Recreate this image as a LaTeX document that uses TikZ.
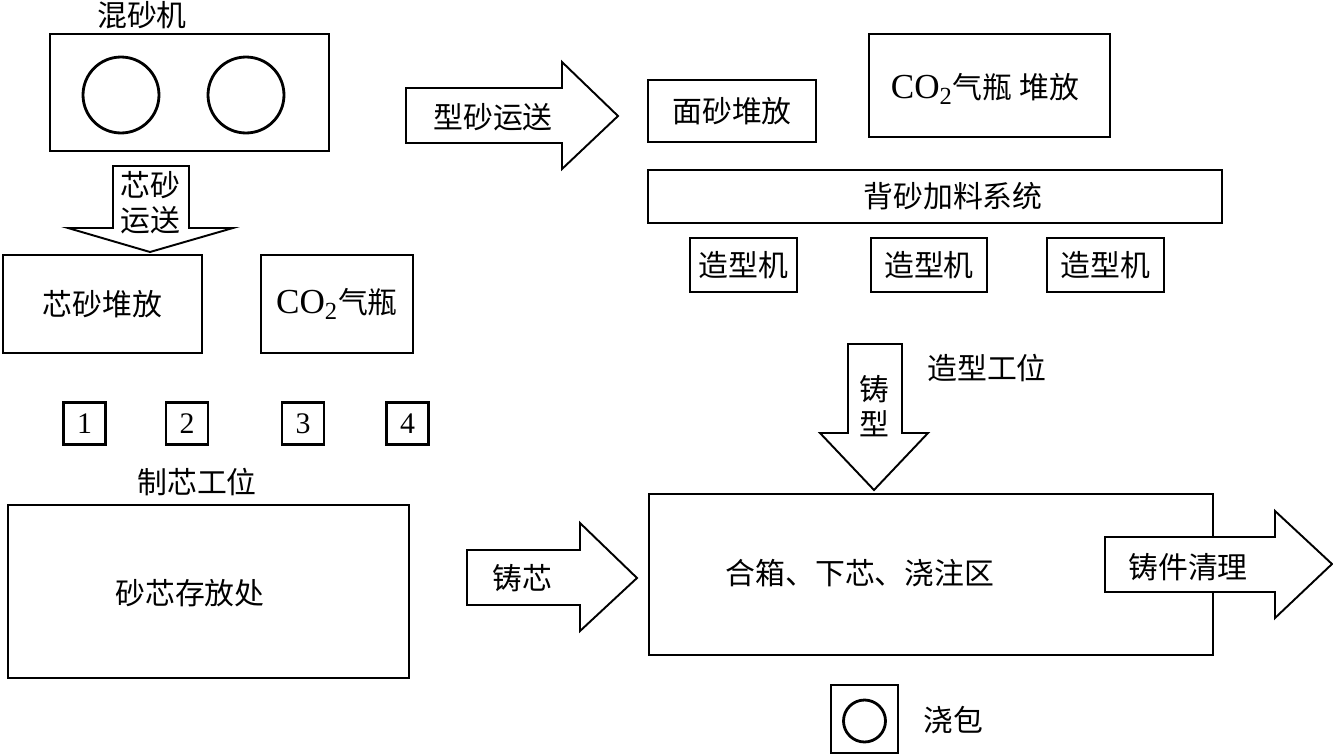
\documentclass[tikz,border=0pt]{standalone}
\usepackage{fontspec}
\setmainfont{Liberation Serif}
\newfontfamily\cjk{Noto Sans CJK SC}
\begin{document}
\begin{tikzpicture}[x=0.02cm, y=-0.02cm,
    box/.style={draw, line width=1.6pt, inner sep=0pt, font=\cjk\fontsize{17}{20}\selectfont},
    numbox/.style={draw, line width=1.4pt, minimum size=0.84cm, inner sep=0pt, font=\fontsize{17}{20}\selectfont},
    ring/.style={draw, circle, line width=1.6pt, inner sep=0pt},
    fat/.style={draw, line width=1.1pt, fill=white, line join=miter},
    lbl/.style={font=\cjk\fontsize{17}{20}\selectfont, inner sep=0pt, align=center}]
    \useasboundingbox (0,0) rectangle (1333,754);

    % 制芯一侧
    \node[lbl] (mixlbl) at (142,15) {混砂机};
    \node[box, minimum width=5.58cm, minimum height=2.34cm] (mixer) at (189.5,92.5) {};
    \node[ring, minimum size=1.52cm] (mixa) at (121,95) {};
    \node[ring, minimum size=1.52cm] (mixb) at (246,95) {};
    \node[box, minimum width=3.98cm, minimum height=1.96cm] (coresand) at (102.5,304) {芯砂堆放};
    \node[box, minimum width=3.04cm, minimum height=1.96cm] (gasa) at (337,304) {{\rmfamily\fontsize{20}{20}\selectfont CO\textsubscript{2}}气瓶};
    \node[numbox] (st1) at (84.5,423.5) {1};
    \node[numbox] (st2) at (187,423.5) {2};
    \node[numbox] (st3) at (303,423.5) {3};
    \node[numbox] (st4) at (407.5,423.5) {4};
    \node[lbl] (corestn) at (197,482) {制芯工位};
    \node[box, minimum width=8.02cm, minimum height=3.46cm] (corestore) at (208.5,591.5) {};
    \node[lbl] (corestorelbl) at (190,593) {砂芯存放处};

    % 造型一侧
    \node[box, minimum width=3.36cm, minimum height=1.24cm] (facesand) at (732,111) {面砂堆放};
    \node[box, minimum width=4.82cm, minimum height=2.06cm] (gasb) at (989.5,85.5) {};
    \node[lbl] (gasblbl) at (985,89) {{\rmfamily\fontsize{20}{20}\selectfont CO\textsubscript{2}}气瓶 堆放};
    \node[box, minimum width=11.48cm, minimum height=1.06cm] (backsand) at (935,196.5) {};
    \node[lbl] (backsandlbl) at (953,196) {背砂加料系统};
    \node[box, minimum width=2.14cm, minimum height=1.08cm] (molder1) at (743.5,265) {造型机};
    \node[box, minimum width=2.32cm, minimum height=1.08cm] (molder2) at (929,265) {造型机};
    \node[box, minimum width=2.34cm, minimum height=1.08cm] (molder3) at (1105.5,265) {造型机};
    \node[lbl] (moldstn) at (987,368) {造型工位};

    % 浇注区
    \node[box, minimum width=11.28cm, minimum height=3.22cm] (pour) at (931,574.5) {};
    \node[lbl] (pourlbl) at (860,573) {合箱、下芯、浇注区};
    \node[box, minimum width=1.34cm, minimum height=1.36cm] (ladle) at (864.5,719) {};
    \node[ring, minimum size=0.84cm] (ladlering) at (864.5,721) {};
    \node[lbl] (ladlelbl) at (953,720) {浇包};

    % 大箭头
    \draw[fat] (113,166) -- (189,166) -- (189,228) -- (233,228) -- (150,252) -- (68,228) -- (113,228) -- cycle;
    \draw[fat] (406,88) -- (562,88) -- (562,62) -- (618,116) -- (562,169) -- (562,143) -- (406,143) -- cycle;
    \draw[fat] (848,344) -- (902,344) -- (902,433) -- (928,433) -- (874,490) -- (820,433) -- (848,433) -- cycle;
    \draw[fat] (467,550) -- (580,550) -- (580,523) -- (637,578) -- (580,631) -- (580,605) -- (467,605) -- cycle;
    \draw[fat] (1105,537) -- (1275,537) -- (1275,511) -- (1332,564) -- (1275,618) -- (1275,592) -- (1105,592) -- cycle;

    \node[lbl] (coremove) at (150,203) {芯砂\\运送};
    \node[lbl] (sandmove) at (493,117) {型砂运送};
    \node[lbl] (moldmove) at (874,406) {铸\\型};
    \node[lbl] (coreflow) at (522,578) {铸芯};
    \node[lbl] (cleanflow) at (1188,567) {铸件清理};
\end{tikzpicture}
\end{document}
